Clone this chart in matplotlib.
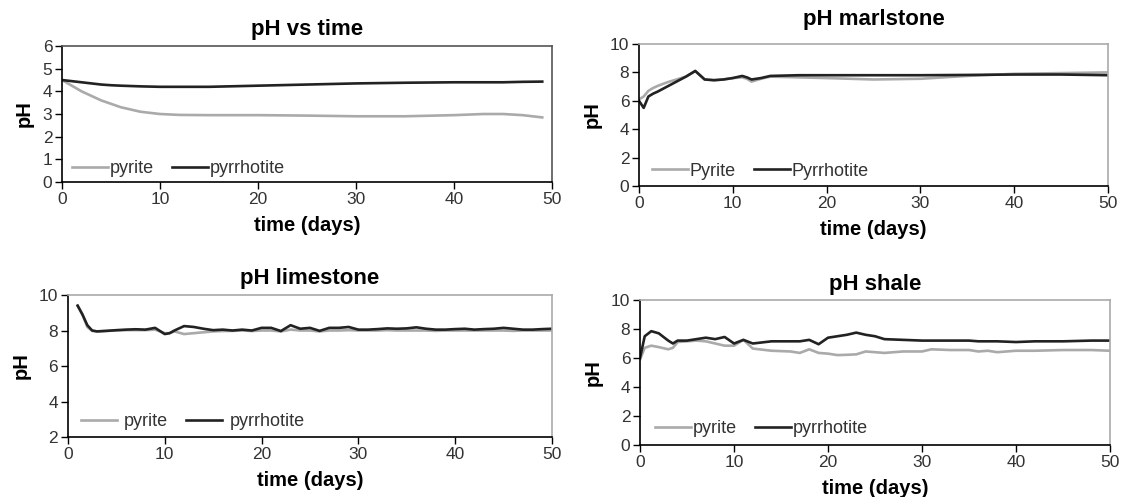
import matplotlib
matplotlib.use("Agg")
import matplotlib.pyplot as plt

plt.rcParams['font.family'] = ['Liberation Sans', 'DejaVu Sans']

GRAY = "#aaaaaa"
BLACK = "#222222"

##DATA##
# pH vs time
t1 = [0, 1, 2, 3, 4, 5, 6, 8, 10, 12, 15, 20, 25, 30, 35, 40, 43, 45, 47, 49]
pyr1 = [4.5, 4.25, 4.0, 3.8, 3.6, 3.45, 3.3, 3.1, 3.0, 2.96, 2.95, 2.95, 2.93, 2.9, 2.9, 2.95, 3.0, 3.0, 2.95, 2.85]
po1 = [4.5, 4.45, 4.4, 4.35, 4.3, 4.27, 4.25, 4.22, 4.2, 4.2, 4.2, 4.25, 4.3, 4.35, 4.38, 4.4, 4.4, 4.4, 4.42, 4.43]

# pH marlstone
t2 = [0, 0.5, 1, 1.5, 2, 3, 4, 5, 5.5, 6, 6.5, 7, 8, 9, 10, 11, 11.5, 12, 13, 14, 17, 20, 25, 30, 35, 40, 45, 50]
pyr2 = [6.1, 6.3, 6.7, 6.9, 7.05, 7.3, 7.5, 7.7, 7.9, 8.1, 7.8, 7.5, 7.45, 7.5, 7.6, 7.65, 7.55, 7.35, 7.55, 7.7, 7.65, 7.6, 7.5, 7.55, 7.75, 7.9, 7.95, 8.0]
po2 = [6.0, 5.5, 6.3, 6.5, 6.65, 7.0, 7.35, 7.7, 7.9, 8.1, 7.8, 7.5, 7.45, 7.5, 7.6, 7.75, 7.65, 7.5, 7.6, 7.75, 7.8, 7.8, 7.8, 7.8, 7.82, 7.85, 7.85, 7.8]

# pH limestone
t3 = [1, 1.5, 2, 2.5, 3, 4, 5, 6, 7, 8, 9, 10, 10.5, 11, 12, 13, 14, 15, 16, 17, 18, 19, 20, 21, 22, 23, 24, 25, 26, 27, 28, 29, 30, 31, 32, 33, 34, 35, 36, 37, 38, 39, 40, 41, 42, 43, 44, 45, 46, 47, 48, 49, 50]
pyr3 = [9.4, 8.9, 8.2, 7.98, 7.95, 7.98, 8.0, 8.02, 8.02, 8.02, 8.05, 7.85, 7.85, 7.95, 7.8, 7.85, 7.9, 7.95, 7.97, 7.98, 8.0, 7.97, 8.0, 8.0, 7.95, 8.05, 8.0, 8.0, 7.95, 8.0, 8.0, 8.02, 8.0, 8.0, 8.0, 8.02, 8.0, 8.0, 8.0, 8.0, 7.98, 8.0, 8.0, 8.0, 8.0, 8.0, 8.0, 8.0, 7.98, 8.0, 8.0, 8.0, 8.0]
po3 = [9.4, 8.9, 8.3, 8.0, 7.95, 7.98, 8.02, 8.05, 8.07, 8.05, 8.15, 7.8, 7.85, 8.0, 8.25, 8.2, 8.1, 8.02, 8.05, 8.0, 8.05, 8.0, 8.15, 8.15, 7.97, 8.3, 8.1, 8.15, 7.98, 8.15, 8.15, 8.2, 8.05, 8.05, 8.08, 8.12, 8.1, 8.12, 8.18, 8.1, 8.05, 8.05, 8.08, 8.1, 8.05, 8.08, 8.1, 8.15, 8.1, 8.05, 8.05, 8.08, 8.1]

# pH shale
t4 = [0, 0.5, 1.2, 2, 3, 3.5, 4, 5, 6, 7, 8, 9, 10, 11, 12, 14, 16, 17, 18, 19, 20, 21, 22, 23, 24, 25, 26, 28, 30, 31, 33, 35, 36, 37, 38, 40, 42, 45, 48, 50]
pyr4 = [5.9, 6.7, 6.85, 6.75, 6.6, 6.7, 7.1, 7.15, 7.2, 7.15, 7.0, 6.85, 6.85, 7.25, 6.65, 6.5, 6.45, 6.35, 6.6, 6.35, 6.3, 6.2, 6.22, 6.25, 6.45, 6.4, 6.35, 6.45, 6.45, 6.6, 6.55, 6.55, 6.45, 6.5, 6.4, 6.5, 6.5, 6.55, 6.55, 6.5]
po4 = [6.0, 7.5, 7.85, 7.7, 7.2, 7.0, 7.2, 7.2, 7.3, 7.4, 7.3, 7.45, 7.0, 7.25, 7.0, 7.15, 7.15, 7.15, 7.25, 6.95, 7.4, 7.5, 7.6, 7.75, 7.6, 7.5, 7.3, 7.25, 7.2, 7.2, 7.2, 7.2, 7.15, 7.15, 7.15, 7.1, 7.15, 7.15, 7.2, 7.2]

panels = [
    # title, t, pyrite, pyrrhotite, labels, ylim, yticks, rect, frame colour, legend anchor, text pad, title pad
    ("pH vs time", t1, pyr1, po1, ("pyrite", "pyrrhotite"), (0, 6), range(0, 7, 1),
     [0.0551, 0.6338, 0.4356, 0.2736], "#555555", (-0.005, -0.055), 0.1, 8),
    ("pH marlstone", t2, pyr2, po2, ("Pyrite", "Pyrrhotite"), (0, 10), range(0, 11, 2),
     [0.568, 0.6258, 0.4169, 0.2857], "#aaaaaa", (0.0, -0.045), 0.1, 14),
    ("pH limestone", t3, pyr3, po3, ("pyrite", "pyrrhotite"), (2, 10), range(2, 11, 2),
     [0.0604, 0.1207, 0.4302, 0.2857], "#aaaaaa", (0.0, -0.04), 0.4, 8),
    ("pH shale", t4, pyr4, po4, ("pyrite", "pyrrhotite"), (0, 10), range(0, 11, 2),
     [0.5689, 0.1046, 0.4178, 0.2918], "#aaaaaa", (0.005, -0.035), 0.1, 7),
]

fig = plt.figure(figsize=(11.25, 4.97), dpi=100)

for title, t, pyr, po, labs, ylim, yticks, rect, fcol, anchor, tpad, ttl_pad in panels:
    ax = fig.add_axes(rect)
    ax.plot(t, pyr, color=GRAY, lw=1.9, label=labs[0])
    ax.plot(t, po, color=BLACK, lw=1.9, label=labs[1])
    ax.set_xlim(0, 50)
    ax.set_ylim(*ylim)
    ax.set_xticks(range(0, 51, 10))
    ax.set_yticks(list(yticks))
    ax.set_title(title, fontsize=16, fontweight="bold", pad=ttl_pad)
    ax.set_xlabel("time (days)", fontsize=14.5, fontweight="bold", labelpad=7)
    ax.set_ylabel("pH", fontsize=14.5, fontweight="bold", labelpad=6)
    ax.tick_params(labelsize=12.5, length=5, width=1, color="black", pad=2, labelcolor="#333333")
    for s in ("left", "bottom"):
        ax.spines[s].set_color("black")
        ax.spines[s].set_linewidth(1.2)
    for s in ("top", "right"):
        ax.spines[s].set_color(fcol)
        ax.spines[s].set_linewidth(1.2)
    ax.legend(loc="lower left", bbox_to_anchor=anchor, ncol=2, frameon=False, fontsize=13,
              handlelength=2.0, handletextpad=tpad, columnspacing=1.0, borderaxespad=0.3,
              labelcolor="#333333")

fig.savefig("out.png", dpi=100)
